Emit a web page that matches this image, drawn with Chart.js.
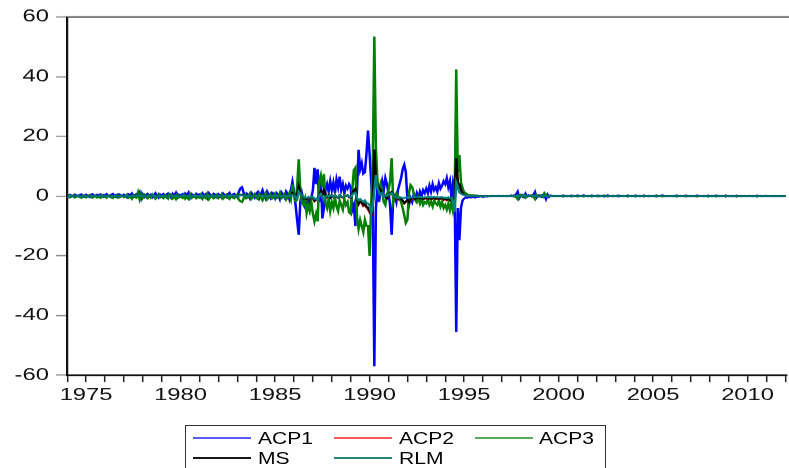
<!DOCTYPE html>
<html><head><meta charset="utf-8">
<script src="https://cdn.jsdelivr.net/npm/chart.js@4.4.1/dist/chart.umd.min.js"></script>
<style>
html,body{margin:0;padding:0;background:#fff;overflow:hidden;width:789px;height:468px;}
#wrap{position:absolute;left:0;top:0;width:564px;height:468px;transform:scaleX(1.398936);transform-origin:0 0;}
.box{position:absolute;left:185px;top:425px;width:421px;height:50px;border:1px solid #333;box-sizing:border-box;}
.ln{position:absolute;height:2px;}
.tx{position:absolute;font-family:"Liberation Sans",Arial,sans-serif;font-size:16.5px;line-height:16.5px;transform:scaleX(1.276);transform-origin:0 0;white-space:nowrap;color:#000;}
</style></head><body>
<div id="wrap"><canvas id="c" width="564" height="468"></canvas></div>
<div class="box"></div>
<script>
// monthly observations, 1974M01 .. 2012M01
const startYear = 1974;
const seriesNames = ["ACP1", "ACP2", "ACP3", "MS", "RLM"];
const seriesColors = ["#0000ff", "#ff0000", "#008000", "#000000", "#008080"];
const legendColors = ["rgba(0,0,255,0.65)", "rgba(255,0,0,0.65)", "rgba(0,128,0,0.65)", "rgba(0,0,0,0.9)", "rgba(0,110,110,0.85)"];
const yTicks = [-60, -40, -20, 0, 20, 40, 60];
const xLabelYears = [1975, 1980, 1985, 1990, 1995, 2000, 2005, 2010];

const ACP1 = [
0.2,-0.3,0.4,0.1,-0.2,0.5,0.3,-0.1,0.4,0.6,-0.2,0.3,
0.5,0.1,-0.3,0.4,0.7,0.2,-0.1,0.5,0.3,0.6,-0.2,0.4,
0.3,0.7,0.1,-0.2,0.5,0.8,0.2,0.4,-0.3,0.6,0.3,0.1,
0.5,0.2,-0.4,0.6,0.3,0.9,-0.2,0.4,0.7,0.1,1.2,-0.8,
0.6,-0.3,0.4,0.8,0.1,0.5,-0.4,0.3,1.0,0.2,-0.5,0.6,
0.3,0.7,-0.2,0.5,0.9,0.1,-0.6,0.8,0.2,1.1,-0.4,0.5,
0.2,0.6,-0.3,0.9,0.4,1.2,-0.5,0.7,0.3,-0.2,0.8,0.4,
0.6,-0.4,0.9,0.2,0.7,-0.6,1.0,0.3,-0.2,0.8,0.5,-0.3,
0.7,0.2,-0.5,0.9,0.4,-0.3,0.6,1.1,-0.2,0.5,0.8,0.3,
-0.4,1.5,2.6,3.0,1.2,-0.3,0.9,0.5,-0.7,1.1,0.4,-0.5,
0.8,1.4,-0.6,0.7,2.0,0.3,-0.8,1.5,0.6,-0.5,1.2,0.9,
-0.6,1.0,0.4,-1.0,1.3,0.6,-0.4,1.6,0.8,-0.9,2.0,4.8,
1.5,-3.0,-8.0,-13.0,-2.0,1.0,-1.5,-3.5,-2.5,-1.0,-3.0,-0.5,
2.0,9.5,4.0,9.0,-2.0,6.0,-7.5,-4.0,2.0,4.0,1.5,5.0,
2.0,4.5,1.0,5.5,3.0,6.5,2.0,4.0,1.0,3.5,2.5,4.0,
3.0,-4.7,-3.0,-10.0,2.0,15.5,9.0,11.0,7.5,8.0,14.0,22.0,
14.0,5.0,-3.0,-57.0,-4.0,3.0,-2.0,2.0,5.0,2.0,6.0,4.0,
1.0,-3.0,-13.0,-1.0,0.0,-2.0,2.0,4.0,6.0,9.0,10.5,8.0,
-1.0,-3.0,-0.7,-2.0,0.5,-1.0,1.0,-0.5,1.5,0.0,2.0,1.0,
2.5,1.0,3.5,1.5,4.0,2.0,3.0,1.5,4.3,2.5,3.5,5.0,
4.0,6.0,3.0,5.0,-0.7,4.6,2.0,-45.6,-4.0,-14.8,-4.0,-1.5,
-0.8,-0.5,-0.6,-0.3,-0.5,-0.4,-0.3,-0.5,-0.2,-0.3,-0.2,-0.1,
-0.3,-0.2,-0.1,-0.2,0.0,-0.1,0.1,0.0,-0.1,0.0,0.1,0.0,
0.0,0.1,0.0,-0.1,0.1,0.0,0.2,-0.1,0.3,0.6,1.5,-0.7,
0.2,0.4,-0.3,0.8,-0.2,0.3,0.1,-0.2,0.4,1.4,-0.5,0.2,
0.3,-0.2,0.4,0.2,-1.0,0.5,-0.3,0.2,0.1,-0.1,0.1,0.0,
0.1,0.0,-0.1,0.2,0.0,0.1,-0.1,0.0,0.2,0.1,-0.1,0.0,
0.2,-0.1,0.0,0.1,0.3,0.0,-0.1,0.1,0.0,0.2,-0.1,0.0,
0.1,0.2,-0.1,0.0,0.1,-0.2,0.0,0.3,0.1,0.0,-0.1,0.1,
0.0,0.1,0.2,-0.1,0.0,0.1,0.0,-0.1,0.2,0.0,0.1,0.0,
-0.1,0.2,0.0,0.1,-0.1,0.0,0.2,0.1,0.0,-0.1,0.1,0.0,
0.1,0.0,0.2,-0.1,0.0,0.1,0.3,0.0,-0.1,0.1,0.0,0.1,
0.0,0.1,-0.1,0.2,0.0,0.1,0.0,-0.1,0.1,0.2,0.0,-0.1,
0.1,0.0,0.1,-0.1,0.2,0.0,0.1,0.0,-0.1,0.1,0.0,0.2,
0.0,-0.1,0.1,0.0,0.2,0.1,-0.1,0.0,0.1,0.0,0.2,-0.1,
0.1,0.0,-0.1,0.1,0.0,0.2,0.0,0.1,-0.1,0.0,0.1,0.0,
0.0,0.1,0.0,-0.1,0.1,0.0,0.2,0.0,-0.1,0.1,0.0,0.1,
0.1,0.0,0.1,0.0,-0.1,0.1,0.0,0.1,0.0,-0.1,0.1,0.0,
0.0];

const ACP2 = [
0,0,0,0,0,0,0,0,0,0,0,0,
0,0,0,0,0,0,0,0,0,0,0,0,
0,0,0,0,0,0,0,0,0,0,0,0,
0,0,0,0,0,0,0,0,0,0.1,0,0,
0,0,0,0,0,0,0,0,0,0,0,0,
0,0,0,0,0,0,0,0,0,0,0,0,
0,0,0,0,0,0,0,0,0,0,0,0,
0,0,0,0,0,0,0,0,0,0,0,0,
0,0,0,0,0,0,0,0,0,0,0,0,
0.0,0.2,0.3,0.4,0.2,0.0,0.1,0.0,-0.1,0.1,0.0,-0.1,
0.1,0.1,-0.1,0.1,0.2,0.0,-0.1,0.2,0.1,-0.1,0.1,0.1,
-0.1,0.1,0.0,-0.2,0.1,0.1,-0.1,0.2,0.1,-0.1,0.2,0.8,
0.2,-0.6,0.3,2.8,0.8,0.1,-0.6,-0.9,-1.2,-0.7,-0.9,-0.4,
-0.6,-1.7,-1.2,-1.4,0.3,1.3,0.3,1.8,0.3,-0.4,0.1,-0.6,
0.1,-0.4,0.2,-0.3,-0.6,0.2,-0.3,-0.5,0.1,-0.1,0.2,-0.4,
-0.6,0.6,1.8,2.2,-1.2,-2.8,-1.8,-2.3,-3.3,-2.8,-3.8,-4.4,
-5.4,-6.3,-3.3,14.8,5.6,3.2,2.4,1.8,0.8,0.3,-0.2,-0.9,
-0.2,0.8,1.2,0.3,-0.7,-0.9,-1.2,-0.7,-1.2,-1.7,-2.5,-2.0,
-1.5,-2.2,-1.2,-1.0,-0.7,-1.2,-0.8,-0.6,-1.0,-0.7,-1.2,-0.9,
-0.8,-1.1,-0.7,-1.2,-0.9,-0.6,-1.1,-0.8,-1.2,-1.0,-0.7,-1.3,
-1.0,-1.4,-0.9,-1.5,-0.7,-1.2,-1.7,12.0,4.2,3.7,1.8,0.8,
0.4,0.2,0.1,0.1,0.0,0.0,0.0,0.0,0.0,0.0,0.0,0.0,
0,0,0,0,0,0,0,0,0,0,0,0,
0,0,0,0,0,0,0,0,0,0.1,0.2,-0.1,
0,0.1,0,0.1,0,0,0,0,0.1,0.2,-0.1,0,
0,0,0.1,0.1,-0.1,0,0,0,0,0,0,0,
0,0,0,0,0,0,0,0,0,0,0,0,
0,0,0,0,0,0,0,0,0,0,0,0,
0,0,0,0,0,0,0,0,0,0,0,0,
0,0,0,0,0,0,0,0,0,0,0,0,
0,0,0,0,0,0,0,0,0,0,0,0,
0,0,0,0,0,0,0,0,0,0,0,0,
0,0,0,0,0,0,0,0,0,0,0,0,
0,0,0,0,0,0,0,0,0,0,0,0,
0,0,0,0,0,0,0,0,0,0,0,0,
0,0,0,0,0,0,0,0,0,0,0,0,
0,0,0,0,0,0,0,0,0,0,0,0,
0,0,0,0,0,0,0,0,0,0,0,0,
0];

const ACP3 = [
-0.3,0.2,-0.4,-0.1,0.3,-0.5,-0.2,0.1,-0.4,-0.6,0.2,-0.3,
-0.5,-0.1,0.3,-0.4,-0.6,-0.2,0.2,-0.5,-0.3,-0.6,0.3,-0.4,
-0.2,-0.6,0.1,0.3,-0.5,-0.7,-0.2,-0.4,0.4,-0.5,-0.2,0.1,
-0.4,-0.2,0.5,-0.6,-0.3,-0.9,0.3,-0.4,-0.6,1.2,-1.0,0.9,
-0.6,0.4,-0.4,-0.8,0.2,-0.5,0.5,-0.3,-0.9,-0.2,0.6,-0.5,
-0.3,-0.7,0.3,-0.5,-0.9,0.8,0.6,-0.8,-0.2,-1.0,0.5,-0.5,
-0.2,-0.6,0.4,-0.9,-0.4,-1.0,0.6,-0.7,-0.3,0.3,-0.8,-0.4,
-0.6,0.5,-0.9,-0.2,-0.7,0.7,-1.0,-0.3,0.3,-0.8,-0.5,0.4,
-0.7,-0.2,0.6,-0.9,-0.4,0.4,-0.6,-1.0,0.3,-0.5,-0.8,-0.3,
0.5,-1.2,-1.8,-2.0,-0.8,0.4,-0.7,-0.4,0.8,-0.9,-0.3,0.6,
-0.6,-1.0,0.7,-0.5,-1.4,-0.2,0.9,-1.1,-0.4,0.6,-0.9,-0.6,
0.7,-0.7,-0.3,1.0,-0.8,-0.4,0.5,-1.2,-0.5,0.9,-1.0,4.0,
1.0,-2.0,3.0,12.3,2.0,-2.0,-3.0,-1.0,-5.7,-3.0,-5.0,-2.0,
-6.0,-8.5,-6.0,-8.5,5.0,7.0,3.0,7.4,-2.3,-4.0,-1.0,-5.0,
-2.0,-4.0,-0.5,-3.5,-5.0,-1.5,-3.0,-4.5,-1.0,-3.0,-2.0,-5.5,
-6.0,2.0,8.7,9.5,-7.0,-11.0,-8.0,-10.0,-12.0,-8.0,-10.0,-10.0,
-20.0,-3.0,10.0,53.4,16.0,5.0,2.0,4.0,1.5,-2.0,-3.0,0.5,
2.0,5.0,12.7,-2.0,0.0,1.0,0.0,-1.0,-2.0,-4.0,-6.4,-9.0,
-8.0,1.0,3.7,3.1,1.0,-1.0,-2.0,-0.5,-2.5,-1.0,-3.0,-2.0,
-2.5,-1.0,-3.0,-2.0,-3.5,-1.5,-2.5,-3.0,-1.5,-3.5,-2.0,-4.0,
-3.0,-4.5,-2.5,-4.7,-2.0,-5.0,-2.0,42.4,8.0,13.8,4.7,2.7,
1.3,1.0,0.6,0.3,0.4,0.2,0.3,0.1,0.2,0.1,0.0,0.1,
0.0,0.1,0.0,-0.1,0.0,0.1,0.0,0.0,-0.1,0.0,0.0,0.1,
0.0,-0.1,0.0,0.1,0.0,-0.1,0.0,0.1,-0.2,-0.3,-1.0,0.4,
0.5,-0.2,0.3,-0.5,0.2,-0.1,0.1,0.3,-0.2,-1.0,0.4,-0.1,
-0.2,0.2,-0.3,1.0,0.3,-0.2,0.1,0.0,-0.1,0.0,0.1,0.0,
-0.1,0.0,0.1,-0.2,0.0,-0.1,0.1,0.0,-0.2,-0.1,0.1,0.0,
-0.2,0.1,0.0,-0.1,-0.2,0.0,0.1,-0.1,0.0,-0.2,0.1,0.0,
-0.1,-0.2,0.1,0.0,-0.1,0.2,0.0,-0.2,-0.1,0.0,0.1,-0.1,
0.0,-0.1,-0.2,0.1,0.0,-0.1,0.0,0.1,-0.2,0.0,-0.1,0.0,
0.1,-0.2,0.0,-0.1,0.1,0.0,-0.2,-0.1,0.0,0.1,-0.1,0.0,
-0.1,0.0,-0.2,0.1,0.0,-0.1,-0.2,0.0,0.1,-0.1,0.0,-0.1,
0.0,-0.1,0.1,-0.2,0.0,-0.1,0.0,0.1,-0.1,-0.2,0.0,0.1,
-0.1,0.0,-0.1,0.1,-0.2,0.0,-0.1,0.0,0.1,-0.1,0.0,-0.2,
0.0,0.1,-0.1,0.0,-0.2,-0.1,0.1,0.0,-0.1,0.0,-0.2,0.1,
-0.1,0.0,0.1,-0.1,0.0,-0.2,0.0,-0.1,0.1,0.0,-0.1,0.0,
0.0,-0.1,0.0,0.1,-0.1,0.0,-0.2,0.0,0.1,-0.1,0.0,-0.1,
-0.1,0.0,-0.1,0.0,0.1,-0.1,0.0,-0.1,0.0,0.1,-0.1,0.0,
0.0];

const MS = [
0.0,0.1,0.0,-0.1,0.0,0.1,0.0,0.0,0.1,0.0,-0.1,0.0,
0.1,0.0,0.0,0.1,0.0,-0.1,0.0,0.1,0.0,0.0,0.1,0.0,
0.0,0.1,0.0,0.0,-0.1,0.0,0.1,0.0,0.0,0.1,0.0,-0.1,
0.0,0.0,0.1,0.0,0.1,-0.1,0.0,0.1,0.0,0.2,-0.1,0.1,
0.0,0.1,0.0,0.1,0.0,0.0,-0.1,0.1,0.0,0.1,0.0,0.0,
0.1,0.0,0.0,0.1,-0.1,0.1,0.0,0.0,0.1,0.0,0.1,0.0,
0.0,0.1,0.0,0.0,0.1,0.1,-0.1,0.0,0.1,0.0,0.0,0.1,
0.1,0.0,0.1,0.0,0.0,-0.1,0.1,0.0,0.0,0.1,0.0,0.0,
0.0,0.1,0.0,0.1,0.0,0.0,0.1,0.1,0.0,0.0,0.1,0.0,
0.0,0.2,0.4,0.5,0.2,0.0,0.1,0.0,-0.1,0.1,0.0,-0.1,
0.1,0.2,-0.1,0.1,0.3,0.0,-0.1,0.2,0.1,-0.1,0.2,0.1,
-0.1,0.1,0.0,-0.2,0.2,0.1,-0.1,0.2,0.1,-0.1,0.3,1.0,
0.3,-0.5,0.5,3.1,1.0,0.2,-0.5,-0.8,-1.0,-0.6,-0.8,-0.3,
-0.5,-1.5,-1.0,-1.2,0.5,1.5,0.5,2.0,0.5,-0.3,0.2,-0.5,
0.2,-0.3,0.3,-0.2,-0.5,0.3,-0.2,-0.4,0.2,0.0,0.3,-0.3,
-0.5,0.8,2.0,2.5,-1.0,-2.5,-1.5,-2.0,-3.0,-2.5,-3.5,-4.0,
-5.0,-6.0,-3.0,15.6,6.0,3.5,2.7,2.0,1.0,0.5,0.0,-0.7,
0.0,1.0,1.4,0.5,-0.5,-0.7,-1.0,-0.5,-1.0,-1.5,-2.3,-1.8,
-1.3,-2.0,-1.0,-0.8,-0.5,-1.0,-0.6,-0.4,-0.8,-0.5,-1.0,-0.7,
-0.6,-0.9,-0.5,-1.0,-0.7,-0.4,-0.9,-0.6,-1.0,-0.8,-0.5,-1.1,
-0.8,-1.2,-0.7,-1.3,-0.5,-1.0,-1.5,12.7,4.5,4.0,2.0,1.0,
0.5,0.3,0.2,0.1,0.1,0.0,0.1,0.0,0.0,0.0,0.0,0.0,
0,0,0,0,0,0,0,0,0,0,0,0,
0,0,0,0,0,0,0,0,0,0.1,0.2,-0.1,
0.0,0.1,0.0,0.1,0.0,0.0,0.0,0.0,0.1,0.2,-0.1,0.0,
0.0,0.0,0.1,0.1,-0.1,0.0,0.0,0.0,0.0,0.0,0.0,0.0,
0,0,0,0,0,0,0,0,0,0,0,0,
0,0,0,0,0,0,0,0,0,0,0,0,
0,0,0,0,0,0,0,0,0,0,0,0,
0,0,0,0,0,0,0,0,0,0,0,0,
0,0,0,0,0,0,0,0,0,0,0,0,
0,0,0,0,0,0,0,0,0,0,0,0,
0,0,0,0,0,0,0,0,0,0,0,0,
0,0,0,0,0,0,0,0,0,0,0,0,
0,0,0,0,0,0,0,0,0,0,0,0,
0,0,0,0,0,0,0,0,0,0,0,0,
0,0,0,0,0,0,0,0,0,0,0,0,
0,0,0,0,0,0,0,0,0,0,0,0,
0];

const RLM = [
-0.6,0.0,0.1,0.0,-0.1,0.0,0.1,0.0,0.0,-0.1,0.0,0.1,
0.0,0.0,-0.1,0.0,0.1,0.0,0.0,-0.1,0.0,0.1,0.0,0.0,
0.0,0.1,0.0,-0.1,0.0,0.0,0.1,0.0,-0.1,0.0,0.1,0.0,
0.0,0.0,0.1,0.0,-0.1,0.1,0.0,0.0,0.1,-0.1,0.2,-0.1,
0.1,0.0,0.0,0.1,0.0,-0.1,0.0,0.1,0.0,0.0,-0.1,0.1,
0.0,0.1,0.0,0.0,0.1,0.0,-0.1,0.1,0.0,0.1,0.0,0.0,
0.0,0.1,0.0,0.1,0.0,0.1,-0.1,0.0,0.1,0.0,0.1,0.0,
0.1,0.0,0.1,0.0,0.1,-0.1,0.1,0.0,0.0,0.1,0.0,0.0,
0.1,0.0,-0.1,0.1,0.0,0.0,0.1,0.1,0.0,0.1,0.1,0.0,
0.0,0.1,0.2,0.3,0.1,0.0,0.0,0.1,0.0,-0.1,0.0,0.0,
0.1,0.1,0.0,0.1,0.2,0.0,-0.1,0.1,0.1,0.0,0.1,0.1,
0.0,0.1,0.0,-0.1,0.1,0.1,0.0,0.1,0.1,-0.1,0.2,0.5,
0.2,-0.4,-1.0,1.5,0.8,0.3,-0.3,-0.5,-0.6,-0.4,-0.5,-0.2,
-0.3,-1.0,-0.8,-1.3,0.3,0.8,-0.5,-1.0,-0.3,0.2,-0.2,0.3,
0.1,-0.3,0.2,-0.2,-0.4,0.3,-0.1,-0.3,0.2,0.0,0.2,-0.2,
-0.3,0.5,1.0,1.2,-0.7,-1.5,-1.0,-1.5,-2.0,-1.5,-2.3,-2.5,
-3.0,-5.7,-3.0,2.0,7.0,2.7,1.3,0.5,1.0,-0.3,0.3,0.0,
0.3,0.8,1.0,0.2,-0.3,-0.5,-0.7,-0.3,-0.5,-0.6,-0.7,-0.5,
-0.4,-0.6,-0.3,-0.5,-0.2,-0.4,-0.3,-0.2,-0.4,-0.3,-0.5,-0.3,
-0.3,-0.4,-0.2,-0.5,-0.3,-0.2,-0.4,-0.3,-0.5,-0.4,-0.3,-0.6,
-0.5,-0.7,-0.4,-0.8,-0.5,-1.5,-5.3,4.5,3.0,1.3,0.8,0.5,
0.3,0.2,0.1,0.1,0.0,0.0,0.0,0.0,0.0,0.0,0.0,0.0,
0,0,0,0,0,0,0,0,0,0,0,0,
0,0,0,0,0,0,0,0,0,0.1,0.2,-0.1,
0.0,0.1,0.0,0.1,0.0,0.0,0.0,0.0,0.1,0.2,-0.1,0.0,
0.0,0.0,0.1,0.1,-0.1,0.0,0.0,0.0,0.0,0.0,0.0,0.0,
0,0,0,0,0,0,0,0,0,0,0,0,
0,0,0,0,0,0,0,0,0,0,0,0,
0,0,0,0,0,0,0,0,0,0,0,0,
0,0,0,0,0,0,0,0,0,0,0,0,
0,0,0,0,0,0,0,0,0,0,0,0,
0,0,0,0,0,0,0,0,0,0,0,0,
0,0,0,0,0,0,0,0,0,0,0,0,
0,0,0,0,0,0,0,0,0,0,0,0,
0,0,0,0,0,0,0,0,0,0,0,0,
0,0,0,0,0,0,0,0,0,0,0,0,
0,0,0,0,0,0,0,0,0,0,0,0,
0,0,0,0,0,0,0,0,0,0,0,0,
0];

const allSeries = [ACP1, ACP2, ACP3, MS, RLM];
// month positions on the time axis (decimal years)
const months = ACP1.map((_, i) => startYear + i / 12);

const datasets = allSeries.map((vals, k) => ({
  label: seriesNames[k],
  data: vals.map((v, i) => ({ x: months[i], y: v })),
  borderColor: seriesColors[k],
  backgroundColor: seriesColors[k],
  borderWidth: 1.8,
  pointRadius: 0,
  tension: 0,
  fill: false,
  order: 5 - k
}));

const frame = {
  id: 'frame',
  afterDraw(chart) {
    const { ctx, chartArea: a } = chart;
    ctx.save();
    ctx.strokeStyle = '#555';
    ctx.lineWidth = 1.5;
    ctx.beginPath();
    ctx.moveTo(a.left, a.top);
    ctx.lineTo(a.right + 5, a.top);
    ctx.stroke();
    ctx.restore();
  }
};

Chart.defaults.font.family = '"Liberation Sans", Arial, sans-serif';
new Chart(document.getElementById('c'), {
  type: 'line',
  data: { datasets },
  plugins: [frame],
  options: {
    responsive: false,
    animation: false,
    devicePixelRatio: 1.4,
    layout: { padding: { top: 17, left: 0, right: 0, bottom: 0 } },
    plugins: { legend: { display: false }, tooltip: { enabled: false } },
    scales: {
      x: {
        type: 'linear', min: startYear, max: 2012.05,
        grid: { drawOnChartArea: false, drawTicks: true, tickLength: 7, tickColor: '#222', tickWidth: 1.1 },
        border: { display: true, color: '#111', width: 1.6 },
        ticks: {
          stepSize: 1, autoSkip: false, maxRotation: 0, minRotation: 0, includeBounds: false, maxTicksLimit: 100,
          padding: 3, color: '#111', font: { size: 17 },
          callback: (v) => xLabelYears.includes(Math.round(v)) && Math.abs(v - Math.round(v)) < 1e-6 ? String(Math.round(v)) : ''
        },
        afterFit: (s) => { s.height = 93; }
      },
      y: {
        min: yTicks[0], max: yTicks[yTicks.length - 1],
        grid: { drawOnChartArea: false, tickLength: 8, tickColor: '#888', tickWidth: 1.2 },
        border: { display: true, color: '#111', width: 1.6 },
        ticks: { stepSize: 20, padding: 5, color: '#111', font: { size: 17 } },
        afterFit: (s) => { s.width = 48; }
      }
    }
  }
});

// legend (3 columns, boxed), real text
const legendPos = [
  { lx: 193, tx: 258, y: 438 },
  { lx: 334, tx: 399, y: 438 },
  { lx: 475, tx: 539, y: 438 },
  { lx: 193, tx: 258, y: 457.5 },
  { lx: 334, tx: 399, y: 457.5 }
];
seriesNames.forEach((name, k) => {
  const p = legendPos[k];
  const ln = document.createElement('div');
  ln.className = 'ln';
  ln.style.left = p.lx + 'px';
  ln.style.width = '58px';
  ln.style.top = (p.y - 1) + 'px';
  ln.style.background = legendColors[k];
  document.body.appendChild(ln);
  const tx = document.createElement('div');
  tx.className = 'tx';
  tx.style.left = p.tx + 'px';
  tx.style.top = (p.y - 8) + 'px';
  tx.textContent = name;
  document.body.appendChild(tx);
});
</script>
</body></html>
